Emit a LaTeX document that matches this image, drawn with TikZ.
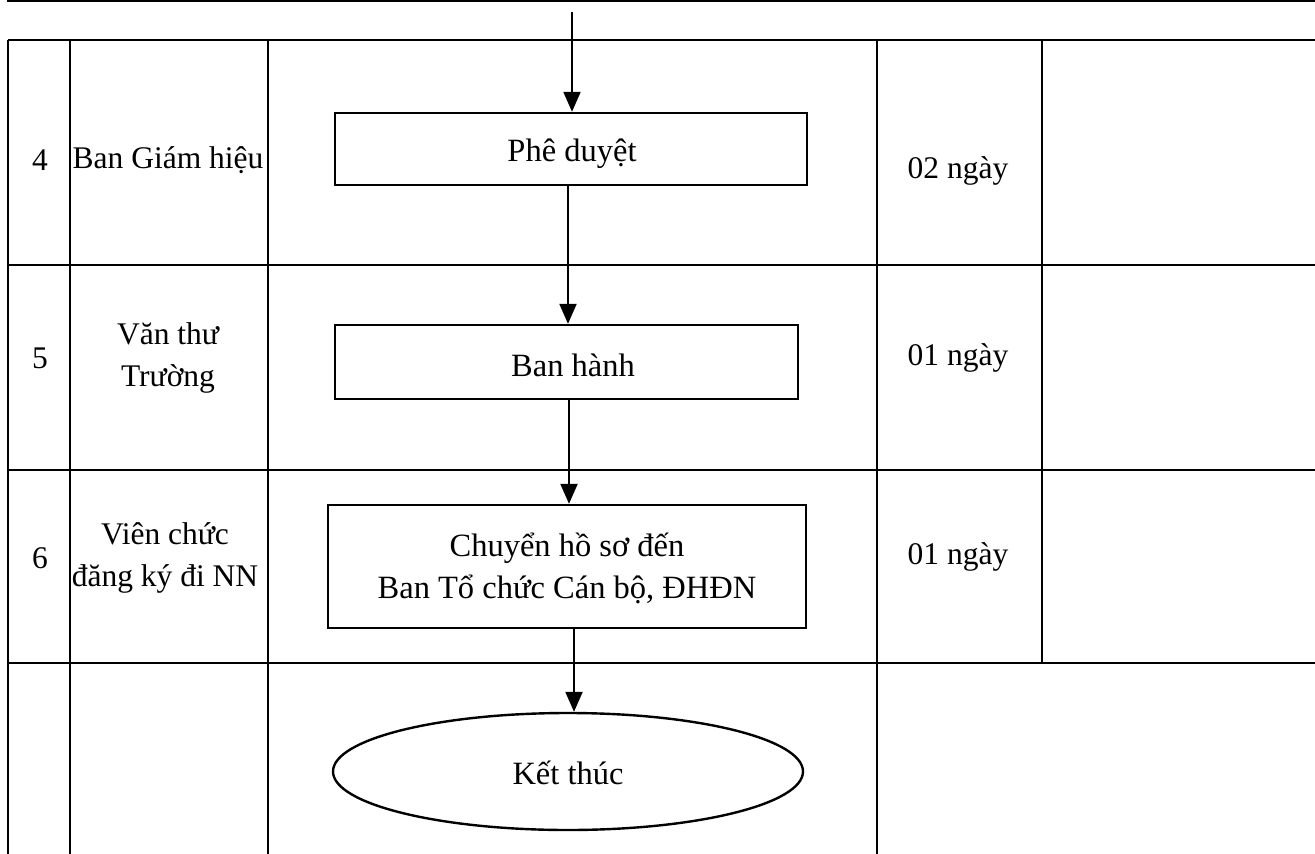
\documentclass[tikz,border=0pt]{standalone}
\usepackage{fontspec}
\setmainfont{Liberation Serif}
\usetikzlibrary{shapes.geometric,arrows.meta}
\begin{document}
\begin{tikzpicture}[x=1pt,y=-1pt,
  grid/.style={line width=1.4pt},
  stepbox/.style={draw, line width=2.4pt, inner sep=0pt},
  boxtext/.style={font=\fontsize{32.5}{42}\selectfont, align=center, inner sep=0pt},
  txt/.style={font=\fontsize{31.5}{42}\selectfont, align=center, inner sep=0pt},
  arr/.style={line width=2.2pt, -{Triangle[length=20pt,width=17pt]}}]
\useasboundingbox (0,0) rectangle (1315,854);
% remnant of previous table
\draw[grid] (8,1) -- (1315,1);
\draw[grid] (8,0) -- (8,2);
\draw[grid] (200,0) -- (200,2);
% table grid
\foreach \y in {40,265,470,663} \draw[grid] (8,\y) -- (1315,\y);
\foreach \x in {8,70,268,877} \draw[grid] (\x,40) -- (\x,854);
\draw[grid] (1042,40) -- (1042,663);
% row texts
\node[txt] (n4) at (40,160) {4};
\node[txt] (r4) at (168,160) {Ban Giám hiệu};
\node[txt] (t4) at (958,171) {02 ngày};
\node[txt] (n5) at (40,358) {5};
\node[txt] (r5) at (168,358) {Văn thư\\Trường};
\node[txt] (t5) at (958,358) {01 ngày};
\node[txt] (n6) at (40,558) {6};
\node[txt] (r6) at (165,558) {Viên chức\\đăng ký đi NN};
\node[txt] (t6) at (958,557) {01 ngày};
% flow
\node[stepbox, minimum width=472pt, minimum height=72pt] (p) at (571,149) {};
\node[boxtext] (pt) at (572,154) {Phê duyệt};
\node[stepbox, minimum width=463pt, minimum height=74pt] (b) at (566.5,362) {};
\node[boxtext] (bt) at (573,365) {Ban hành};
\node[stepbox, minimum width=478pt, minimum height=123pt] (c) at (567,566.5) {};
\node[boxtext] (ct) at (567,568) {Chuyển hồ sơ đến\\Ban Tổ chức Cán bộ, ĐHĐN};
\node[stepbox, ellipse, minimum width=470pt, minimum height=117pt] (k) at (568,771.5) {};
\node[boxtext] (kt) at (568,773) {Kết thúc};
\coordinate (top) at (572,12);
\coordinate (a1) at (568,0);
\coordinate (a2) at (569,0);
\coordinate (a3) at (574,0);
\draw[arr] (top) -- (top |- p.north);
\draw[arr] (p.south -| a1) -- (b.north -| a1);
\draw[arr] (b.south -| a2) -- (c.north -| a2);
\draw[arr] (c.south -| a3) -- (k.north -| a3);
\end{tikzpicture}
\end{document}
